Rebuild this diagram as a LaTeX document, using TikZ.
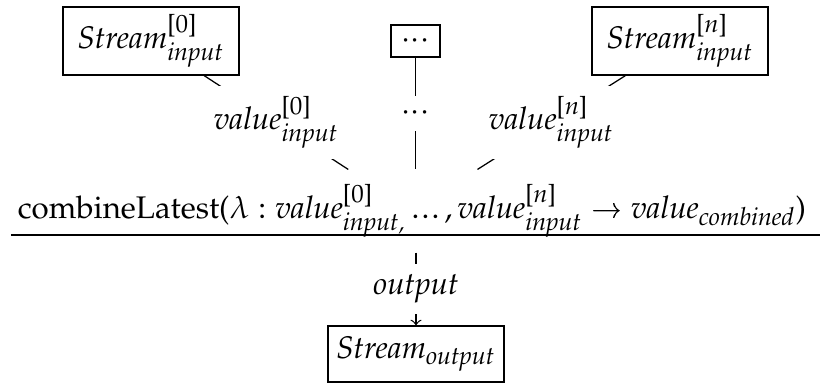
\documentclass[tikz,border=0pt]{standalone}
\usepackage[T1]{fontenc}
\usepackage{mathpazo}
\newcommand\mysb[1]{\mbox{\fontsize{8}{9}\selectfont\itshape #1}}
\newcommand\mysp[1]{\mbox{\fontsize{8}{9}\selectfont #1}}
\newcommand\myldots{\mathinner{.\kern0.07em.\kern0.07em.}}
\newcommand\mycdots{\mathinner{{\cdotp}{\cdotp}{\cdotp}}}
\newcommand\myarrow{\mathrel{\mbox{\textrightarrow}}}
\begin{document}
\begin{tikzpicture}[x=0.32pt,y=-0.32pt,
  box/.style={draw, inner sep=0pt, minimum width=56.3pt, minimum height=21.8pt},
  dotbox/.style={draw, inner sep=0pt, minimum width=15.7pt, minimum height=10.2pt},
  outbox/.style={draw, inner sep=0pt, minimum width=56.3pt, minimum height=17.9pt},
  lbl/.style={fill=white, inner sep=3.3pt},
  comb/.style={inner sep=0pt, minimum height=26.2pt},
  conn/.style={line width=0.4pt}]
\useasboundingbox (0,0) rectangle (820,385);
\node[box] (s0) at (151,41) {$\mathit{Stream}^{\mysp{[0]}}_{\mysb{input}}$};
\node[dotbox] (sd) at (415.5,41) {$\mycdots$};
\node[box] (sn) at (680,41) {$\mathit{Stream}^{\mysp{[\textit{n}]}}_{\mysb{input}}$};
\node[comb] (c) at (412,211) {combineLatest($\lambda : \mathit{value}^{\mysp{[0]}}_{\mysb{input,}}\myldots,\mathit{value}^{\mysp{[\textit{n}]}}_{\mysb{input}} \myarrow \mathit{value}_{\mysb{combined}}$)};
\coordinate (rl) at (11,235);
\coordinate (rr) at (820,235);
\draw[line width=0.6pt] (rl) -- (rr);
\node[outbox] (so) at (416,354) {$\mathit{Stream}_{\mysb{output}}$};
\draw[conn] (s0) -- node[lbl] {$\mathit{value}^{\mysp{[0]}}_{\mysb{input}}$} (c);
\draw[conn] (sn) -- node[lbl] {$\mathit{value}^{\mysp{[\textit{n}]}}_{\mysb{input}}$} (c);
\draw[conn] (sd) -- node[lbl] {$\mycdots$} (sd |- c.north);
\draw[conn,->] (so |- c.south) -- node[lbl] {$\mathit{output}$} (so);
\end{tikzpicture}
\end{document}
